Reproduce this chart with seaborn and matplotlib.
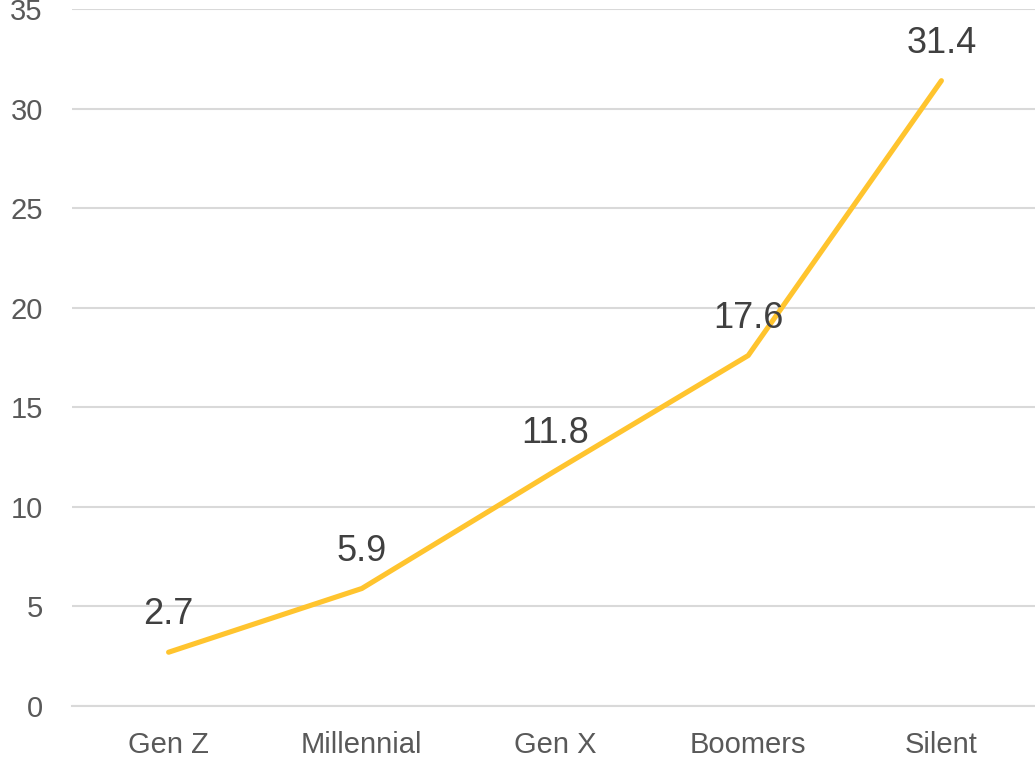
import matplotlib
matplotlib.use("Agg")
import matplotlib.pyplot as plt
import seaborn as sns
import pandas as pd

categories = ["Gen Z", "Millennial", "Gen X", "Boomers", "Silent"]
values = [2.7, 5.9, 11.8, 17.6, 31.4]
y_ticks = [0, 5, 10, 15, 20, 25, 30, 35]

sns.set_theme(style="white")
plt.rcParams['font.family'] = ['Liberation Sans', 'DejaVu Sans']

df = pd.DataFrame({"gen": categories, "val": values, "x": range(len(categories))})

fig = plt.figure(figsize=(10.35, 7.59), dpi=100)
ax = fig.add_axes([72/1035, 53/759, 966/1035, 697/759])

sns.lineplot(data=df, x="x", y="val", ax=ax, color="#FFC42E", linewidth=3.7,
             solid_capstyle="round")

ax.set_xlim(-0.5, 4.5)
ax.set_ylim(0, 35)
ax.set_yticks(y_ticks)
ax.set_yticklabels([str(t) for t in y_ticks])
ax.set_xticks(range(len(categories)))
ax.set_xticklabels(categories)
ax.set_xticks([i - 0.5 for i in range(len(categories) + 1)], minor=True)

for sp in ["top", "right", "left"]:
    ax.spines[sp].set_visible(False)
ax.spines["bottom"].set_color("#d9d9d9")
ax.spines["bottom"].set_linewidth(1.5)
ax.grid(axis="y", color="#d9d9d9", linewidth=1.5)
ax.set_axisbelow(True)

ax.tick_params(axis="y", length=0, pad=21, labelsize=21, labelcolor="#595959")
ax.tick_params(axis="x", which="major", length=0, pad=18, labelsize=21, labelcolor="#595959")
ax.tick_params(axis="x", which="minor", length=7.5, width=1.5, color="#d9d9d9", direction="out")
ax.set_xlabel("")
ax.set_ylabel("")

for i, v in enumerate(values):
    ax.annotate(f"{v}", (i, v), xytext=(0, 27), textcoords="offset points",
                ha="center", va="center", fontsize=26, color="#404040")

fig.savefig("out.png", dpi=100)
